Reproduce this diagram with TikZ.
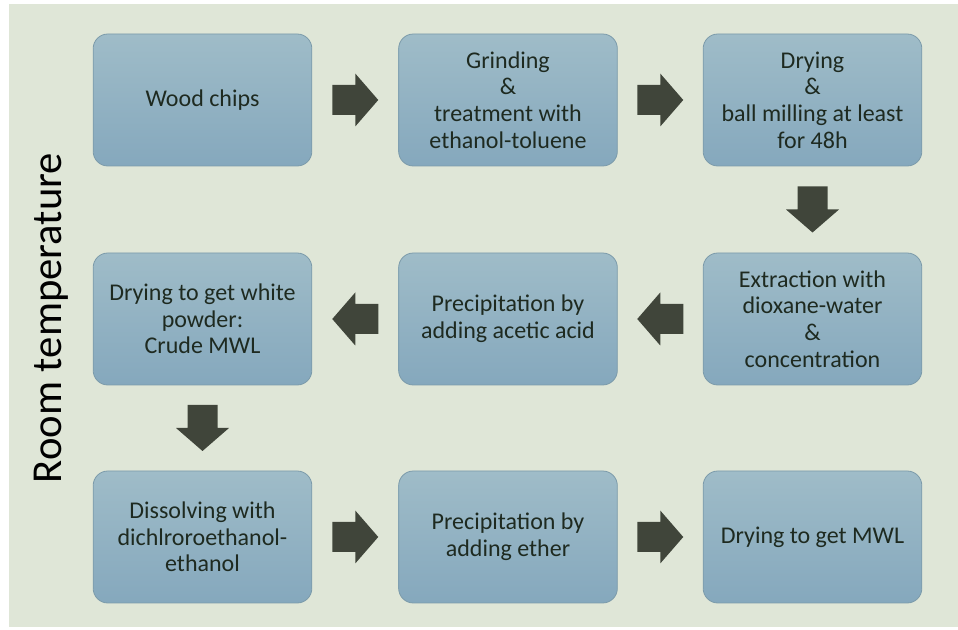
\documentclass[tikz,border=0pt]{standalone}
\usepackage{fontspec}
\setmainfont{Carlito}
\usetikzlibrary{calc}

\definecolor{panel}{HTML}{DFE6D7}
\definecolor{boxtop}{HTML}{9FBCC8}
\definecolor{boxbot}{HTML}{85A8BD}
\definecolor{boxline}{HTML}{7C9BAA}
\definecolor{arrowfill}{HTML}{40453A}
\definecolor{ink}{HTML}{1E2A20}

\tikzset{
  stepbox/.style={rounded corners=11pt, draw=boxline, line width=0.6pt,
    top color=boxtop, bottom color=boxbot,
    minimum width=164pt, minimum height=99pt, inner sep=0pt,
    align=center, text=ink, font=\fontsize{18}{20}\selectfont},
  % thick block arrow pointing along +x, origin at the base of the head
  blockarrow/.pic={
    \fill[arrowfill] (-23,-15) -- (0,-15) -- (0,-26.5) -- (23,0)
      -- (0,26.5) -- (0,15) -- (-23,15) -- cycle;
  }
}

\begin{document}
\begin{tikzpicture}[x=0.75pt, y=-0.75pt]
  \useasboundingbox (0,0) rectangle (958,630);
  \fill[white] (0,0) rectangle (958,630);
  \fill[panel] (9,4) rectangle (958,627);

  % side label
  \node[rotate=90, anchor=base, inner sep=0pt, text=black,
        font=\fontsize{32}{36}\selectfont] (room) at (61,318) {Room temperature};

  % first row
  \node[stepbox] (chips) at (202.5,100) {Wood chips};
  \node[stepbox] (grind) at (508,100) {Grinding\\\&\\treatment with\\ethanol-toluene};
  \node[stepbox] (mill)  at (812.5,100) {Drying\\\&\\ball milling at least\\for 48h};

  % second row
  \node[stepbox] (extract) at (812.5,319) {Extraction with\\dioxane-water\\\&\\concentration};
  \node[stepbox] (acetic)  at (508,319) {Precipitation by\\adding acetic acid};
  \node[stepbox] (crude)   at (202.5,319) {Drying to get white\\powder:\\Crude MWL};

  % third row
  \node[stepbox] (dissolve) at (202.5,537) {Dissolving with\\dichlroroethanol-\\ethanol};
  \node[stepbox] (ether)    at (508,537) {Precipitation by\\adding ether};
  \node[stepbox] (mwl)      at (812.5,537) {Drying to get MWL};

  % flow arrows
  \pic at ($(chips.east)!0.5!(grind.west)$) {blockarrow};
  \pic at ($(grind.east)!0.5!(mill.west)$) {blockarrow};
  \pic[rotate=-90] at ($(mill.south)!0.5!(extract.north)$) {blockarrow};
  \pic[rotate=180] at ($(extract.west)!0.5!(acetic.east)$) {blockarrow};
  \pic[rotate=180] at ($(acetic.west)!0.5!(crude.east)$) {blockarrow};
  \pic[rotate=-90] at ($(crude.south)!0.5!(dissolve.north)$) {blockarrow};
  \pic at ($(dissolve.east)!0.5!(ether.west)$) {blockarrow};
  \pic at ($(ether.east)!0.5!(mwl.west)$) {blockarrow};
\end{tikzpicture}
\end{document}
